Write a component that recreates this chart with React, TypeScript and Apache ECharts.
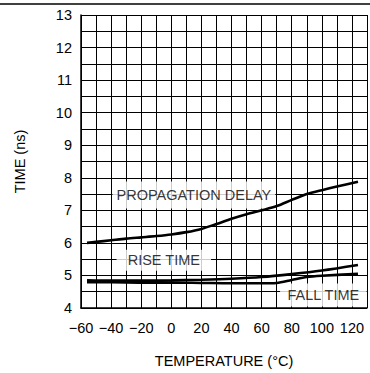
import React, { useEffect, useRef } from "react";
import * as echarts from "echarts";

// ---- data ----
const propagationTemps = [-56, -50, -40, -30, -20, -10, 0, 10, 20, 30, 40, 50, 60, 70, 80, 90, 100, 110, 124];
const propagationDelay = [6.0, 6.03, 6.08, 6.13, 6.17, 6.21, 6.26, 6.33, 6.43, 6.58, 6.74, 6.88, 7.0, 7.13, 7.32, 7.5, 7.62, 7.73, 7.88];

const riseTemps = [-56, -40, -20, 0, 20, 40, 60, 80, 100, 124];
const riseTime = [4.85, 4.84, 4.84, 4.85, 4.87, 4.9, 4.95, 5.04, 5.15, 5.32];

const fallTemps = [-56, -40, -20, 0, 20, 40, 60, 70, 80, 90, 100, 124];
const fallTime = [4.79, 4.79, 4.78, 4.78, 4.77, 4.76, 4.76, 4.77, 4.86, 4.95, 4.99, 5.05];

const curveLabels = ["PROPAGATION DELAY", "RISE TIME", "FALL TIME"];
const labelTemps = [15, -5, 101];
const labelValues = [7.47, 5.47, 4.4];

const xTicks = [-60, -40, -20, 0, 20, 40, 60, 80, 100, 120];
const yTicks = [4, 5, 6, 7, 8, 9, 10, 11, 12, 13];

const FONT = "Liberation Sans";

const pairs = (xs: number[], ys: number[]) => xs.map((x, i) => [x, ys[i]]);

export default function App() {
  const ref = useRef<HTMLDivElement>(null);
  useEffect(() => {
    if (!ref.current) return;
    const chart = echarts.init(ref.current, undefined, { renderer: "svg" });
    const labelPads = [
      [6, 4, 6, 4],
      [3, 11, 3, 11],
      [4, 7, 4, 7],
    ];
    chart.setOption({
      animation: false,
      backgroundColor: "#fff",
      grid: { left: 81, top: 15, bottom: 65, right: -3 },
      graphic: [
        {
          type: "line",
          shape: { x1: 0, y1: 4, x2: 370, y2: 4 },
          style: { stroke: "#000", lineWidth: 1.5 },
        },
      ],
      xAxis: {
        type: "value",
        min: -60,
        max: 130,
        interval: 10,
        name: "TEMPERATURE (°C)",
        nameLocation: "middle",
        nameGap: 45,
        nameTextStyle: { fontFamily: FONT, fontSize: 14.5, color: "#000" },
        axisLine: { show: true, onZero: false, lineStyle: { color: "#000", width: 1.5 } },
        axisTick: { show: false },
        splitLine: { show: true, lineStyle: { color: "#000", width: 1 } },
        axisLabel: {
          margin: 12,
          fontFamily: FONT,
          fontSize: 14.5,
          color: "#000",
          formatter: (v: number) =>
            xTicks.includes(v) ? String(v).replace("-", "\u2212") : "",
        },
      },
      yAxis: {
        type: "value",
        min: 4,
        max: 13,
        interval: 0.5,
        name: "TIME (ns)",
        nameLocation: "middle",
        nameGap: 54,
        nameRotate: 90,
        nameTextStyle: { fontFamily: FONT, fontSize: 14.5, color: "#000" },
        axisLine: { show: true, onZero: false, lineStyle: { color: "#000", width: 1.5 } },
        axisTick: { show: false },
        splitLine: { show: true, lineStyle: { color: "#000", width: 1 } },
        axisLabel: {
          margin: 9,
          fontFamily: FONT,
          fontSize: 14.5,
          color: "#000",
          formatter: (v: number) => (yTicks.includes(v) ? String(v) : ""),
        },
      },
      series: [
        {
          type: "scatter",
          z: 2,
          symbolSize: 0,
          silent: true,
          data: curveLabels.map((name, i) => ({
            name,
            value: [labelTemps[i], labelValues[i]],
            label: {
              show: true,
              position: "inside",
              formatter: name,
              fontFamily: FONT,
              fontSize: 14.5,
              color: "#000",
              backgroundColor: "#fff",
              padding: labelPads[i],
            },
          })),
        },
        {
          type: "line",
          z: 5,
          smooth: 0.3,
          symbol: "none",
          lineStyle: { color: "#000", width: 2.6 },
          data: pairs(propagationTemps, propagationDelay),
        },
        {
          type: "line",
          z: 5,
          smooth: 0.3,
          symbol: "none",
          lineStyle: { color: "#000", width: 2.6 },
          data: pairs(riseTemps, riseTime),
        },
        {
          type: "line",
          z: 5,
          smooth: 0.3,
          symbol: "none",
          lineStyle: { color: "#000", width: 2.6 },
          data: pairs(fallTemps, fallTime),
        },
      ],
    });
    return () => chart.dispose();
  }, []);
  return (
    <div
      ref={ref}
      style={{ position: "absolute", left: 0, top: 0, width: 370, height: 373 }}
    />
  );
}
